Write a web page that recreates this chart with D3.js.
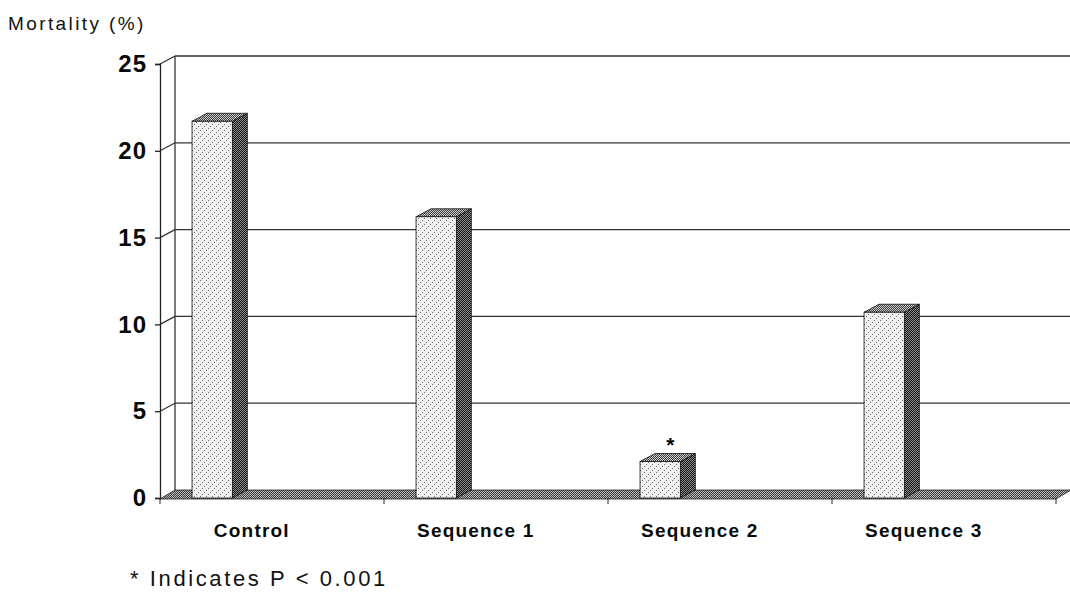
<!DOCTYPE html>
<html>
<head>
<meta charset="utf-8">
<script src="https://cdn.jsdelivr.net/npm/d3@7"></script>
<style>
  body { margin: 0; background: #fff; }
  svg { display: block; font-family: "Liberation Sans", Arial, sans-serif; }
</style>
</head>
<body>
<div id="viz"></div>
<script>
// values
var categories = ['Control', 'Sequence 1', 'Sequence 2', 'Sequence 3'],
    mortality = [21.7, 16.2, 2.1, 10.7],
    significant = [false, false, true, false],
    yTickValues = [0, 5, 10, 15, 20, 25],
    yTitle = 'Mortality (%)',
    footnote = '* Indicates P < 0.001';

var width = 1070,
    height = 609,
    depthX = 15,   // 3d depth offset
    depthY = -8;

var svg = d3.select('#viz').append('svg')
    .attr('width', width)
    .attr('height', height);

var defs = svg.append('defs');

// dithered fills, like the scanned excel chart
function checker(id, a, b) {
  var p = defs.append('pattern')
      .attr('id', id)
      .attr('width', 2).attr('height', 2)
      .attr('patternUnits', 'userSpaceOnUse');
  p.append('rect').attr('width', 2).attr('height', 2).attr('fill', a);
  p.append('rect').attr('width', 1).attr('height', 1).attr('fill', b);
  p.append('rect').attr('x', 1).attr('y', 1).attr('width', 1).attr('height', 1).attr('fill', b);
}
checker('side', '#141414', '#8c8c8c');
checker('top', '#3c3c3c', '#cfcfcf');
checker('floor', '#3a3a3a', '#bdbdbd');

var dots = defs.append('pattern')
    .attr('id', 'front')
    .attr('width', 6).attr('height', 6)
    .attr('patternUnits', 'userSpaceOnUse');
dots.append('rect').attr('width', 6).attr('height', 6).attr('fill', '#f0f0f0');
[[0, 0], [4, 2], [2, 4]].forEach(function(d) {
  dots.append('rect').attr('x', d[0]).attr('y', d[1])
    .attr('width', 1).attr('height', 1).attr('fill', '#6a6a6a');
});

var xScale = d3.scaleBand()
    .domain(categories)
    .range([160, 1056])
    .padding(0);

var yScale = d3.scaleLinear()
    .domain([0, 25])
    .range([498, 64]);

var band = xScale.bandwidth(),
    barOffset = band * 0.143,
    barWidth = band * 0.18;

// back wall + left wall
var walls = svg.append('g')
    .attr('stroke', '#333')
    .attr('stroke-width', 1.3)
    .attr('fill', 'none');

walls.selectAll('line.grid')
    .data(yTickValues.slice(1))
  .enter().append('line')
    .attr('class', 'grid')
    .attr('x1', xScale.range()[0] + depthX)
    .attr('x2', width)
    .attr('y1', function(d) { return yScale(d) + depthY; })
    .attr('y2', function(d) { return yScale(d) + depthY; });

walls.selectAll('line.side')
    .data(yTickValues.slice(1))
  .enter().append('line')
    .attr('class', 'side')
    .attr('x1', xScale.range()[0])
    .attr('x2', xScale.range()[0] + depthX)
    .attr('y1', function(d) { return yScale(d); })
    .attr('y2', function(d) { return yScale(d) + depthY; });

walls.append('line')
    .attr('x1', xScale.range()[0] + depthX)
    .attr('x2', xScale.range()[0] + depthX)
    .attr('y1', yScale(25) + depthY)
    .attr('y2', yScale(0) + depthY);

// floor
var x0 = xScale.range()[0], x1 = xScale.range()[1], y0 = yScale(0);
svg.append('path')
    .attr('d', 'M' + x0 + ',' + (y0 + 1) +
      'L' + (x0 + depthX) + ',' + (y0 + depthY) +
      'L' + (x1 + depthX) + ',' + (y0 + depthY) +
      'L' + x1 + ',' + (y0 + 1) + 'Z')
    .attr('fill', 'url(#floor)')
    .attr('stroke', '#222')
    .attr('stroke-width', 0.8);

// front axis
var yAxis = d3.axisLeft(yScale)
    .tickValues(yTickValues)
    .tickSize(5)
    .tickPadding(8);

var yGuide = svg.append('g')
    .attr('transform', 'translate(' + x0 + ',0)')
    .call(yAxis);
yGuide.select('.domain').attr('stroke', '#222').attr('stroke-width', 1.3);
yGuide.selectAll('.tick line').attr('stroke', '#222').attr('stroke-width', 1.3);
yGuide.selectAll('.tick text')
    .attr('fill', '#0a0a0a')
    .style('font-size', '24px')
    .style('font-weight', 'bold')
    .style('letter-spacing', '1px')
    .style('font-family', '"Liberation Sans", Arial, sans-serif');

// category ticks under the floor
svg.append('g').selectAll('line')
    .data(categories.concat(['end']))
  .enter().append('line')
    .attr('x1', function(d, i) { return x0 + i * band; })
    .attr('x2', function(d, i) { return x0 + i * band; })
    .attr('y1', y0)
    .attr('y2', y0 + 6)
    .attr('stroke', '#222');

// bars
var bars = svg.append('g').selectAll('g.bar')
    .data(mortality)
  .enter().append('g')
    .attr('class', 'bar');

bars.append('path')   // side
    .attr('d', function(d, i) {
      var r = xScale(categories[i]) + barOffset + barWidth, t = yScale(d);
      return 'M' + r + ',' + t + 'L' + (r + depthX) + ',' + (t + depthY) +
        'L' + (r + depthX) + ',' + (y0 + depthY) + 'L' + r + ',' + y0 + 'Z';
    })
    .attr('fill', 'url(#side)')
    .attr('stroke', '#111')
    .attr('stroke-width', 0.8);

bars.append('path')   // top
    .attr('d', function(d, i) {
      var l = xScale(categories[i]) + barOffset, t = yScale(d);
      return 'M' + l + ',' + t + 'L' + (l + depthX) + ',' + (t + depthY) +
        'L' + (l + barWidth + depthX) + ',' + (t + depthY) +
        'L' + (l + barWidth) + ',' + t + 'Z';
    })
    .attr('fill', 'url(#top)')
    .attr('stroke', '#111')
    .attr('stroke-width', 0.8);

bars.append('rect')   // front
    .attr('x', function(d, i) { return xScale(categories[i]) + barOffset; })
    .attr('y', function(d) { return yScale(d); })
    .attr('width', barWidth)
    .attr('height', function(d) { return y0 - yScale(d); })
    .attr('fill', 'url(#front)')
    .attr('stroke', '#111')
    .attr('stroke-width', 0.8);

bars.filter(function(d, i) { return significant[i]; })
  .append('text')
    .attr('x', function(d, i) { return xScale('Sequence 2') + barOffset + barWidth * 0.75; })
    .attr('y', function(d) { return yScale(d) + depthY - 2; })
    .attr('text-anchor', 'middle')
    .style('font-size', '21px')
    .style('font-weight', 'bold')
    .text('*');

// category labels
svg.append('g').selectAll('text')
    .data(categories)
  .enter().append('text')
    .attr('x', function(d) { return xScale(d) + band * 0.41; })
    .attr('y', 537)
    .attr('text-anchor', 'middle')
    .style('font-size', '19px')
    .style('font-weight', 'bold')
    .style('letter-spacing', '1.2px')
    .attr('fill', '#0a0a0a')
    .text(function(d) { return d; });

svg.append('text')
    .attr('x', 8)
    .attr('y', 30)
    .style('font-size', '19px')
    .style('letter-spacing', '2.4px')
    .attr('fill', '#111')
    .text(yTitle);

svg.append('text')
    .attr('x', 130)
    .attr('y', 586)
    .style('font-size', '22px')
    .style('letter-spacing', '2.6px')
    .attr('fill', '#111')
    .text(footnote);
</script>
</body>
</html>
